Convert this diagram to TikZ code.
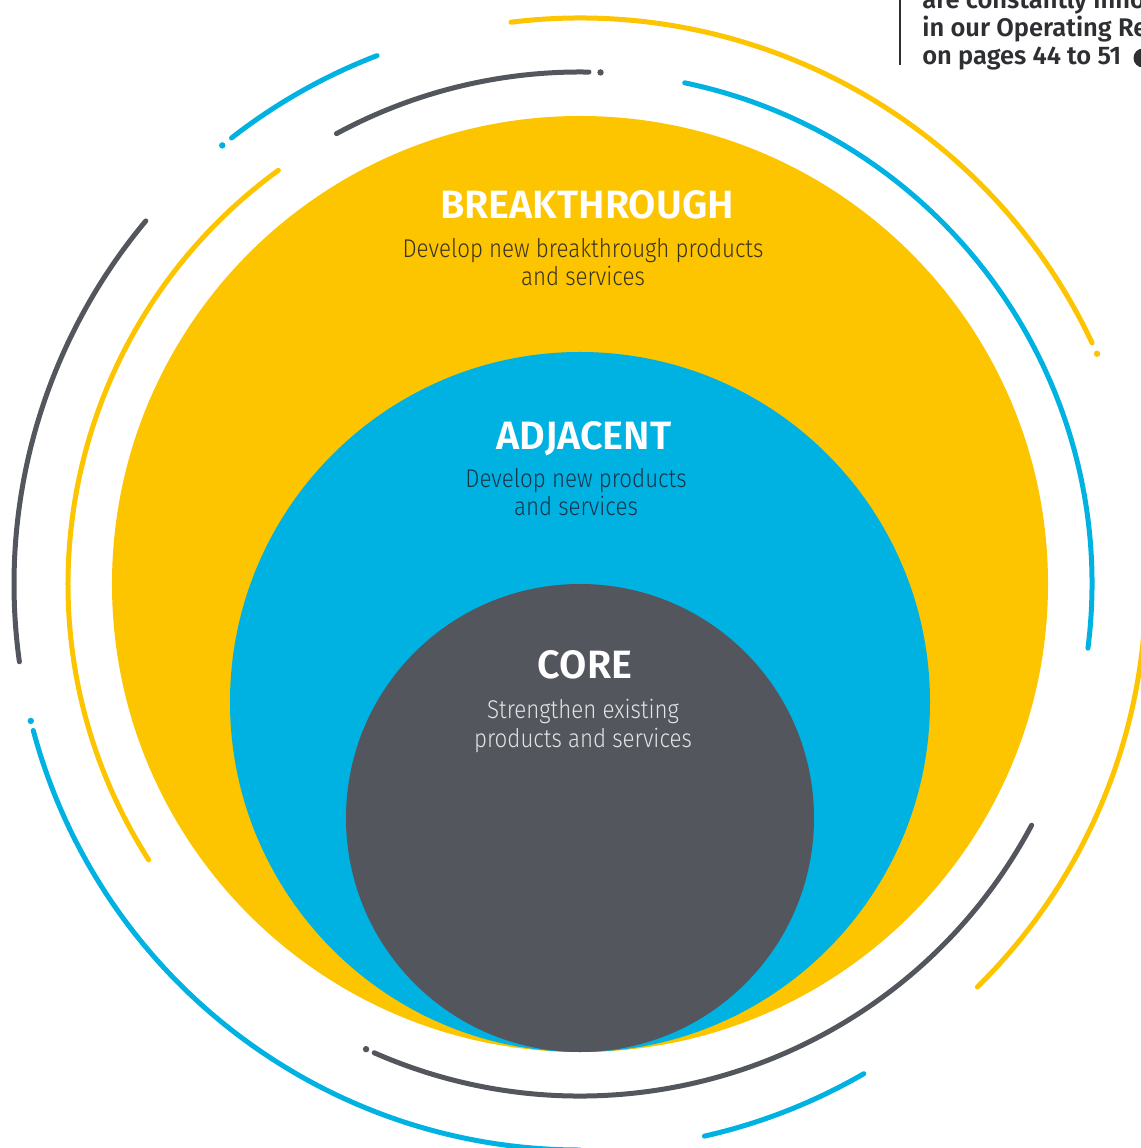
\documentclass[tikz,border=0pt]{standalone}
\usepackage{fontspec}
\setmainfont{Fira Sans}
\newfontfamily\headfont{Fira Sans SemiBold}
\newfontfamily\bodyfont{Fira Sans Light}[FakeStretch=0.87]
\usetikzlibrary{positioning}

\definecolor{ringyellow}{HTML}{FDC400}
\definecolor{ringblue}{HTML}{00B2E1}
\definecolor{ringgrey}{HTML}{53565D}
\definecolor{yellowink}{HTML}{3B3322}
\definecolor{blueink}{HTML}{17354B}
\definecolor{greyink}{HTML}{E2E3E5}
\definecolor{notegrey}{HTML}{2E2F33}

\tikzset{
  arcline/.style={line width=0.1cm, line cap=round},
  head/.style={font=\headfont\fontsize{22.5}{26}\selectfont, text=white, inner sep=0pt, anchor=base},
  % base anchor of a two-line node sits on its last line
  desc/.style={font=\bodyfont\fontsize{14.6}{16.4}\selectfont, align=center, inner sep=0pt, anchor=base},
}

\begin{document}
\begin{tikzpicture}[x=0.02cm, y=0.02cm]
  \useasboundingbox (-580,-564) rectangle (561,584);
  \clip (-580,-564) rectangle (561,584);

  % the three nested discs
  \fill[ringyellow] (0,0)    circle[radius=468];
  \fill[ringblue]   (0,-118) circle[radius=350];
  \fill[ringgrey]   (0,-234) circle[radius=234];

  % outer ring, r = 566
  \draw[arcline, ringyellow] (97:566) arc[start angle=97, end angle=25.2, radius=566];
  \fill[ringyellow] (24:566) circle[radius=3.2];
  \draw[arcline, ringyellow] (-2:566) arc[start angle=-2, end angle=-45.4, radius=566];
  \draw[arcline, ringgrey] (140.1:566) arc[start angle=140.1, end angle=187.9, radius=566];
  \fill[ringblue] (129.2:566) circle[radius=3.2];
  \draw[arcline, ringblue] (128:566) arc[start angle=128, end angle=111, radius=566];
  \fill[ringblue] (194:566) circle[radius=3.2];
  \draw[arcline, ringblue] (195:566) arc[start angle=195, end angle=270, radius=566];
  \draw[arcline, ringblue] (-77.3:566) arc[start angle=-77.3, end angle=-59.9, radius=566];

  % inner ring, r = 512
  \draw[arcline, ringblue] (78.2:512) arc[start angle=78.2, end angle=-7.2, radius=512];
  \draw[arcline, ringyellow] (126.1:512) arc[start angle=126.1, end angle=212.6, radius=512];
  \draw[arcline, ringgrey] (118.4:512) arc[start angle=118.4, end angle=89, radius=512];
  \fill[ringgrey] (87.7:512) circle[radius=3.2];
  \fill[ringgrey] (245.3:512) circle[radius=3.2];
  \draw[arcline, ringgrey] (246.3:512) arc[start angle=246.3, end angle=331.9, radius=512];

  % labels
  \node[head] (brk) at (7,365) {BREAKTHROUGH};
  \node[desc, text=yellowink] (brkdesc) at (3,298) {Develop new breakthrough products\\and services};

  \node[head] (adj) at (4,134) {ADJACENT};
  \node[desc, text=blueink] (adjdesc) at (-4,68) {Develop new products\\and services};

  \node[head] (core) at (5,-95) {CORE};
  \node[desc, text=greyink] (coredesc) at (3,-163) {Strengthen existing\\products and services};

  % side note, top right
  \draw[notegrey, line width=0.025cm] (320,584) -- (320,519);
  \node[font=\headfont\fontsize{14.5}{16.2}\selectfont, text=notegrey, align=left,
        inner sep=0pt, anchor=base west] (note) at (342,519)
        {are constantly innovating\\in our Operating Review\\on pages 44 to 51};
  \fill[notegrey] (563,526) circle[radius=9.5];
\end{tikzpicture}
\end{document}
